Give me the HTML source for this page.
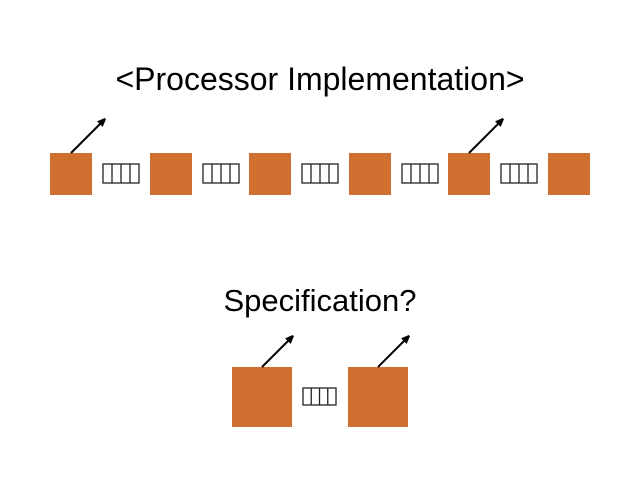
<!DOCTYPE html>
<html><head><meta charset="utf-8"><style>
body{margin:0;width:640px;height:480px;background:#fff;overflow:hidden}
text{font-family:"Liberation Sans",sans-serif;fill:#000}
</style></head><body>
<svg width="640" height="480">
<defs><marker id="ah" markerWidth="8" markerHeight="8" refX="6" refY="4" orient="auto" markerUnits="userSpaceOnUse"><path d="M0,0 L10,4 L0,8 z" fill="#000"/></marker></defs>
<text x="320" y="90" font-size="32" text-anchor="middle">&lt;Processor Implementation&gt;</text>
<text x="320" y="311" font-size="31" text-anchor="middle">Specification?</text>
<g id="toprow"></g>
<g id="botrow"></g>
</svg>
<script>
const NS='http://www.w3.org/2000/svg';
function el(t,a,p){const e=document.createElementNS(NS,t);for(const k in a)e.setAttribute(k,a[k]);p.appendChild(e);return e;}
function queue(x,y,w,h,p){
 const g=el('g',{},p);
 
 
 el('rect',{x:x,y:y,width:w,height:h,fill:'#fff',stroke:'#222','stroke-width':1.3},g);
 for(let i=1;i<4;i++){el('line',{x1:x+w*i/4,y1:y,x2:x+w*i/4,y2:y+h,stroke:'#222','stroke-width':1.3},g);}
}
function box(x,y,s,p,arrow,len){
 const r=el('rect',{x:x,y:y,width:s,height:s,fill:'#d07030'},p);
 
 
 if(arrow){
  const a=el('line',{x1:x+s/2,y1:y,x2:x+s/2+len,y2:y-len,stroke:'#000','stroke-width':2,'marker-end':'url(#ah)'},p);
  
  
 }
}
const topRow=document.getElementById('toprow');
const tx=[50,150,249,349,448,548];
tx.forEach((x,i)=>{box(x,153,42,topRow,i===0||i===4,33);if(i<5)queue(x+53,164,36,19,topRow);});
const botRow=document.getElementById('botrow');
box(232,367,60,botRow,true,30);box(348,367,60,botRow,true,30);
queue(303,388,33,17,botRow);
</script>
</body></html>
